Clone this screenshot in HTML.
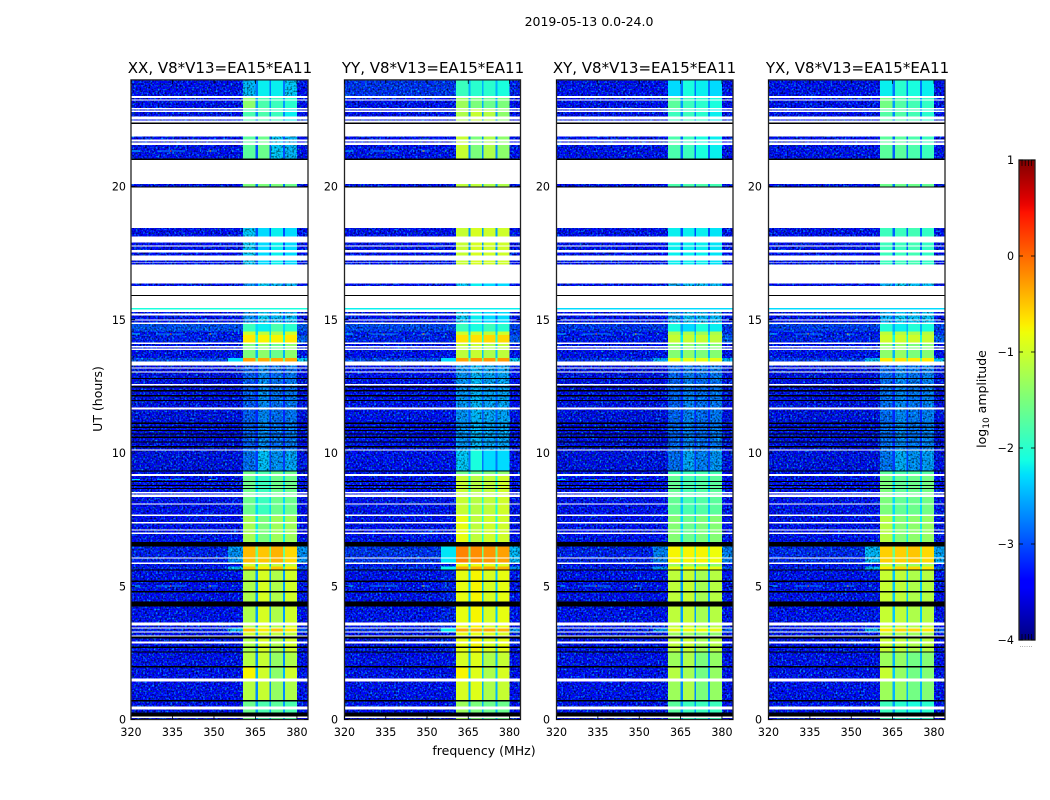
<!DOCTYPE html>
<html lang="en">
<head>
<meta charset="utf-8">
<title>2019-05-13 amplitude waterfall</title>
<style>
html,body{margin:0;padding:0;background:#fff;}
svg{display:block;}
text{font-family:"DejaVu Sans","Liberation Sans",sans-serif;fill:#000;}
</style>
</head>
<body>
<svg id="chart" xmlns="http://www.w3.org/2000/svg" width="1050" height="800" viewBox="0 0 1050 800">
  <defs>
    <linearGradient id="jetRamp" x1="0" y1="1" x2="0" y2="0"></linearGradient>
    <filter id="grain" x="0" y="0" width="100%" height="100%" color-interpolation-filters="sRGB">
      <feTurbulence type="fractalNoise" baseFrequency="0.55" numOctaves="1" seed="7" result="n"/>
      <feColorMatrix in="n" type="matrix" values="0 0 0 0 0  2.2 0 0 0 -1.05  0 0 0 0 0  0 0 0 0 1" result="lift"/>
      <feColorMatrix in="n" type="matrix" values="0 2.2 0 0 -0.2  0 2.2 0 0 -0.2  0 2.2 0 0 -0.2  0 0 0 0 1" result="shade"/>
      <feBlend in="SourceGraphic" in2="lift" mode="screen" result="a"/>
      <feBlend in="a" in2="shade" mode="multiply" result="b"/>
      <feComposite in="b" in2="SourceAlpha" operator="in"/>
    </filter>
  </defs>
  <text x="589" y="26" font-size="12.5" text-anchor="middle">2019-05-13 0.0-24.0</text>
  <text x="102" y="399" font-size="12.5" text-anchor="middle" transform="rotate(-90 102 399)">UT (hours)</text>
  <text x="484" y="755" font-size="12.5" text-anchor="middle">frequency (MHz)</text>
  <text x="986" y="399" font-size="12.5" text-anchor="middle" transform="rotate(-90 986 399)">log<tspan font-size="9" dy="3">10</tspan><tspan dy="-3"> amplitude</tspan></text>
  <g id="panels"></g>
  <g id="colorbar"></g>
</svg>
<script>
/* ---------- data ---------- */
const xTicks = [320, 335, 350, 365, 380];
const yTicks = [0, 5, 10, 15, 20];
const colorbarTicks = [-4, -3, -2, -1, 0, 1];
const colorbarMinorTicks = [-3.96, -3.92, -3.88, -3.84, 0.84, 0.88, 0.92, 0.96];

/* Frequency bin edges in MHz; each bin reads one column of a level profile. */
const freqEdges = [320, 355, 360.5, 365, 365.9, 370.05, 370.6, 374.9, 375.65, 380, 384];
const binColumn = [0, 1, 2, 3, 4, 3, 5, 3, 6, 7];

/* UT row starts (hours) and the state of each row. W = flagged/blank, K = dropped/black, others key the level tables. */
const rowStartHours = [0,.056,.105,.255,.383,.48,.683,.732,1.433,1.531,1.959,2.008,2.507,2.559,2.683,2.732,2.859,2.934,3.032,3.107,3.159,3.257,3.31,3.407,3.46,3.535,3.632,4.233,4.435,4.758,4.822,5.159,5.208,5.583,5.636,5.734,5.835,5.884,6.034,6.086,6.484,6.66,6.961,7.009,7.084,7.137,7.362,7.411,7.636,7.685,8.06,8.113,8.349,8.435,8.488,8.536,8.649,8.687,8.762,8.799,8.912,8.949,9.137,9.212,9.306,9.351,10.086,10.139,10.214,10.262,10.386,10.424,10.563,10.612,10.687,10.739,10.825,10.863,10.938,10.987,11.088,11.137,11.64,11.715,11.951,11.989,12.113,12.176,12.3,12.364,12.465,12.514,12.54,12.589,12.777,12.814,13.013,13.066,13.163,13.216,13.291,13.441,13.565,13.865,13.914,13.966,14.015,14.09,14.139,14.428,14.567,14.841,14.889,14.964,15.017,15.167,15.242,15.291,15.392,15.441,15.891,15.929,16.266,16.368,17.066,17.141,17.167,17.216,17.419,17.516,17.617,17.741,17.794,17.891,18.117,18.443,19.97,20.008,20.094,20.994,21.043,21.557,21.643,21.696,21.771,21.868,22.345,22.394,22.469,22.522,22.619,22.795,22.844,22.897,22.946,23.22,23.272,23.321,23.396];
const rowProfiles = ['A0','W','K','A0','W','A0','K','A','W','A1','K','A','K','C','K','C','W','C','K','W','D0','W','H','W','C','W','C','K','C','K','C','K','C','K','H','D0','W','D','W','D','K','E','W','E','W','E','W','E','W','F','W','F','W','F','W','F','K','F','K','F','K','F','W','F2','K','G','W','I','K','I','K','I','K','I','K','I','K','I','K','I','K','I','W','I','K','I','K','I','K','I','K','I','W','I','K','I','W','I','W','I','W','X','J2','W','J2','W','J2','W','J','J3','L','W','M','W','M','W','M','W','Cy','W','K','W','M','W','N','W','N','W','N','W','N','W','N','W','N','W','K','O','W','K','P','W','P','W','P','W','K','W','Q','W','Q','W','Q','W','R','W','R','W','T'];

/* log10 amplitude per profile: background, shoulder, sub-band 1, gaps, sub-band 2, 3, 4, upper edge */
const levelsXX = {
  A0:[-3.45,-3.45,-1.6,-2.6,-1.8,-1.7,-1.8,-3.45], A:[-3.45,-3.45,-1.15,-2.7,-1.05,-1.35,-1.2,-3.45],
  A1:[-3.45,-3.45,-0.75,-2.5,-1.0,-1.4,-1.0,-3.45], C:[-3.45,-3.4,-1.2,-2.6,-0.95,-1.2,-1.0,-3.45],
  H:[-3.3,-2.5,-0.5,-1.8,-0.7,-0.5,-0.7,-3.0], D:[-3.3,-2.7,-0.45,-1.6,-0.5,-0.4,-0.6,-2.7],
  D0:[-3.45,-3.45,-1.0,-2.5,-1.0,-1.1,-1.1,-3.45], E:[-3.45,-3.45,-1.25,-2.2,-1.5,-1.3,-1.3,-3.45],
  F:[-3.45,-3.45,-1.6,-2.3,-1.9,-1.6,-1.6,-3.45], F2:[-3.4,-3.4,-1.6,-2.4,-1.8,-1.6,-1.6,-3.4],
  G:[-3.5,-3.5,-2.9,-3.1,-2.45,-2.7,-2.6,-3.5], I:[-3.5,-3.5,-3.0,-3.2,-2.75,-2.9,-2.85,-3.5],
  J:[-3.3,-3.3,-0.7,-2.0,-0.75,-0.75,-0.7,-3.0], J2:[-3.45,-3.45,-1.5,-2.5,-1.4,-1.6,-1.4,-3.4],
  J3:[-3.4,-3.4,-1.0,-2.3,-1.1,-1.2,-1.0,-3.2], X:[-3.1,-2.3,-0.3,-1.6,-0.35,-0.35,-0.35,-2.4],
  L:[-3.05,-3.05,-1.9,-2.3,-2.2,-1.8,-2.0,-3.0], M:[-3.45,-3.45,-2.7,-3.0,-2.4,-2.5,-2.5,-3.45],
  Cy:[-2.1,-2.1,-2.1,-2.1,-2.1,-2.1,-2.1,-2.1], N:[-3.45,-3.45,-2.4,-3.0,-2.3,-2.2,-2.3,-3.45],
  O:[-3.45,-3.45,-1.5,-2.8,-1.5,-1.5,-1.6,-3.45], P:[-3.45,-3.45,-1.7,-3.0,-1.6,-2.4,-2.5,-3.45],
  Q:[-3.45,-3.45,-1.8,-2.7,-1.8,-1.9,-2.2,-3.45], R:[-3.45,-3.45,-1.4,-2.6,-1.8,-1.9,-2.0,-3.45],
  T:[-3.4,-3.4,-2.5,-2.8,-2.2,-2.2,-2.4,-3.4]
};
const levelsYY = {
  A0:[-3.45,-3.45,-1.3,-2.5,-1.5,-1.6,-1.6,-3.45], A:[-3.45,-3.45,-0.95,-2.5,-0.9,-1.2,-1.05,-3.45],
  A1:[-3.45,-3.45,-0.75,-2.4,-0.9,-1.2,-0.95,-3.45], C:[-3.4,-3.3,-0.85,-2.4,-0.75,-0.95,-0.85,-3.4],
  H:[-3.2,-2.2,-0.35,-1.6,-0.4,-0.35,-0.4,-2.7], D:[-3.2,-2.25,-0.15,-1.6,-0.2,-0.25,-0.3,-2.5],
  D0:[-3.45,-3.4,-0.85,-2.3,-0.85,-0.9,-0.95,-3.4], E:[-3.4,-3.4,-0.85,-2.1,-1.1,-1.0,-1.0,-3.4],
  F:[-3.45,-3.45,-1.05,-2.1,-1.15,-1.1,-1.0,-3.45], F2:[-3.4,-3.4,-1.6,-2.3,-1.6,-1.5,-1.4,-3.4],
  G:[-3.45,-3.45,-2.4,-2.8,-2.1,-2.3,-2.3,-3.45], I:[-3.45,-3.45,-2.7,-2.95,-2.5,-2.6,-2.6,-3.45],
  J:[-3.3,-3.3,-0.65,-2.0,-0.65,-0.6,-0.6,-3.0], J2:[-3.4,-3.4,-1.1,-2.4,-1.05,-1.2,-1.1,-3.4],
  J3:[-3.35,-3.35,-1.0,-2.3,-1.0,-1.1,-1.0,-3.2], X:[-3.1,-2.3,-0.3,-1.6,-0.25,-0.25,-0.25,-2.4],
  L:[-3.1,-3.1,-1.9,-2.4,-2.1,-1.9,-2.0,-3.1], M:[-3.45,-3.45,-2.4,-2.9,-2.2,-2.3,-2.3,-3.45],
  Cy:[-2.2,-2.2,-2.2,-2.2,-2.2,-2.2,-2.2,-2.2], N:[-3.45,-3.4,-1.05,-2.6,-0.95,-1.0,-1.0,-3.4],
  O:[-3.45,-3.4,-1.1,-2.6,-1.1,-1.2,-1.2,-3.4], P:[-3.4,-3.4,-1.05,-2.7,-1.5,-1.2,-1.4,-3.4],
  Q:[-3.4,-3.4,-1.2,-2.6,-1.05,-1.15,-1.4,-3.4], R:[-3.4,-3.4,-1.3,-2.5,-1.5,-1.6,-1.5,-3.4],
  T:[-3.2,-3.2,-1.9,-2.5,-2.0,-2.0,-2.1,-3.3]
};
const levelsXY = {
  A0:[-3.45,-3.45,-1.7,-2.6,-1.9,-1.9,-1.9,-3.45], A:[-3.45,-3.45,-1.3,-2.7,-1.2,-1.5,-1.35,-3.45],
  A1:[-3.45,-3.45,-1.15,-2.6,-1.25,-1.55,-1.35,-3.45], C:[-3.45,-3.4,-1.1,-2.6,-1.05,-1.25,-1.15,-3.45],
  H:[-3.3,-2.7,-0.85,-2.0,-0.8,-0.8,-0.85,-3.0], D:[-3.3,-2.8,-0.75,-1.8,-0.75,-0.75,-0.8,-2.8],
  D0:[-3.45,-3.45,-1.3,-2.6,-1.3,-1.4,-1.4,-3.45], E:[-3.45,-3.45,-1.45,-2.3,-1.6,-1.5,-1.45,-3.45],
  F:[-3.45,-3.45,-1.65,-2.4,-1.8,-1.75,-1.7,-3.45], F2:[-3.4,-3.4,-1.85,-2.5,-1.9,-1.85,-1.85,-3.4],
  G:[-3.5,-3.5,-2.9,-3.1,-2.6,-2.8,-2.7,-3.5], I:[-3.5,-3.5,-2.95,-3.2,-2.8,-2.9,-2.85,-3.5],
  J:[-3.35,-3.35,-1.05,-2.2,-1.05,-1.05,-1.1,-3.0], J2:[-3.45,-3.45,-1.45,-2.5,-1.4,-1.5,-1.45,-3.4],
  J3:[-3.4,-3.4,-1.2,-2.4,-1.2,-1.3,-1.2,-3.2], X:[-3.2,-2.6,-0.85,-1.8,-0.85,-0.85,-0.85,-2.5],
  L:[-3.2,-3.2,-2.1,-2.6,-2.3,-2.1,-2.2,-3.2], M:[-3.45,-3.45,-2.6,-3.0,-2.45,-2.5,-2.5,-3.45],
  Cy:[-2.3,-2.3,-2.3,-2.3,-2.3,-2.3,-2.3,-2.3], N:[-3.45,-3.45,-2.2,-3.0,-2.2,-2.2,-2.25,-3.45],
  O:[-3.45,-3.45,-1.8,-2.8,-1.8,-1.8,-1.85,-3.45], P:[-3.45,-3.45,-1.8,-2.9,-1.9,-2.1,-2.2,-3.45],
  Q:[-3.45,-3.45,-1.9,-2.7,-1.9,-2.0,-2.2,-3.45], R:[-3.45,-3.45,-1.7,-2.6,-1.9,-2.0,-2.1,-3.45],
  T:[-3.4,-3.4,-2.3,-2.8,-2.1,-2.2,-2.3,-3.4]
};
const levelsYX = {
  A0:[-3.45,-3.45,-1.9,-2.6,-2.0,-2.1,-2.0,-3.45], A:[-3.45,-3.45,-1.3,-2.5,-1.35,-1.55,-1.45,-3.45],
  A1:[-3.45,-3.45,-1.05,-2.4,-1.35,-1.55,-1.45,-3.45], C:[-3.45,-3.35,-1.05,-2.4,-1.1,-1.2,-1.15,-3.4],
  H:[-3.3,-2.5,-0.7,-1.8,-0.6,-0.6,-0.7,-3.0], D:[-3.25,-2.5,-0.55,-1.6,-0.55,-0.5,-0.6,-2.6],
  D0:[-3.45,-3.45,-1.1,-2.5,-1.2,-1.3,-1.25,-3.45], E:[-3.45,-3.45,-1.15,-2.2,-1.45,-1.4,-1.35,-3.45],
  F:[-3.45,-3.45,-1.5,-2.3,-1.65,-1.6,-1.55,-3.45], F2:[-3.4,-3.4,-1.7,-2.4,-1.8,-1.75,-1.75,-3.4],
  G:[-3.5,-3.5,-2.85,-3.1,-2.55,-2.7,-2.65,-3.5], I:[-3.5,-3.5,-2.9,-3.2,-2.75,-2.85,-2.8,-3.5],
  J:[-3.3,-3.3,-1.0,-2.1,-1.0,-1.0,-1.05,-3.0], J2:[-3.45,-3.45,-1.4,-2.5,-1.35,-1.5,-1.45,-3.4],
  J3:[-3.4,-3.4,-1.1,-2.3,-1.15,-1.2,-1.15,-3.2], X:[-3.15,-2.5,-0.7,-1.7,-0.65,-0.7,-0.7,-2.45],
  L:[-3.15,-3.15,-2.05,-2.5,-2.2,-2.05,-2.1,-3.15], M:[-3.45,-3.45,-2.55,-3.0,-2.4,-2.45,-2.45,-3.45],
  Cy:[-2.3,-2.3,-2.3,-2.3,-2.3,-2.3,-2.3,-2.3], N:[-3.45,-3.45,-1.9,-2.9,-1.9,-1.85,-1.95,-3.45],
  O:[-3.45,-3.45,-1.6,-2.8,-1.6,-1.6,-1.65,-3.45], P:[-3.45,-3.45,-1.7,-2.9,-1.7,-1.8,-1.9,-3.45],
  Q:[-3.45,-3.45,-1.75,-2.7,-1.75,-1.85,-2.0,-3.45], R:[-3.45,-3.45,-1.55,-2.6,-1.75,-1.85,-1.95,-3.45],
  T:[-3.4,-3.4,-2.2,-2.8,-2.0,-2.1,-2.2,-3.4]
};

/* Narrow interference lines */
const spurStartMHz = [320.4, 329.4, 334.1, 334.8, 344.9, 347.8, 348.4, 356.5];
const spurEndMHz   = [323.3, 334.1, 334.6, 339.5, 345.4, 351.1, 349.0, 357.0];
const spurLevels   = [-2.3, -2.7, -0.1, -2.7, -2.3, -2.7, -0.6, -2.0];
const spurHoursXX = [5.01, 9.01, 14.46, 21.33];
const spurHoursYY = [5.01, 14.46, 21.33];
const spurHoursXY = [5.01, 9.01, 14.46];
const spurHoursYX = [5.01, 14.46];

/* ---------- layout & scales ---------- */
const NS = 'http://www.w3.org/2000/svg';
const axisTop = 79.9, axisBottom = 719.5, hourMax = 24, freqMin = 320, freqMax = 384;
const barTop = 160, barBottom = 640, barLeft = 1019, barRight = 1035, levelMin = -4, levelMax = 1;
const grainCutoff = -2.3, gapColumn = 3;
const panelDefs = [
  {key:'xx', title:'XX, V8*V13=EA15*EA11', left:131,   right:308,   titleX:220,   labelGap:5, levels:levelsXX, spurs:spurHoursXX},
  {key:'yy', title:'YY, V8*V13=EA15*EA11', left:344.5, right:520.5, titleX:433,   labelGap:6.5, levels:levelsYY, spurs:spurHoursYY},
  {key:'xy', title:'XY, V8*V13=EA15*EA11', left:556.5, right:733,   titleX:644.5, labelGap:6.5, levels:levelsXY, spurs:spurHoursXY},
  {key:'yx', title:'YX, V8*V13=EA15*EA11', left:768.5, right:945,   titleX:857.5, labelGap:6.5, levels:levelsYX, spurs:spurHoursYX}
];
const yScale = h => axisBottom - (h / hourMax) * (axisBottom - axisTop);
const xScaleFor = p => f => p.left + ((f - freqMin) / (freqMax - freqMin)) * (p.right - p.left);
const barScale = v => barBottom - ((v - levelMin) / (levelMax - levelMin)) * (barBottom - barTop);

function ramp(v, pts) {
  for (let i = 1; i < pts.length; i++) {
    if (v <= pts[i][0]) {
      return pts[i-1][1] + (v - pts[i-1][0]) / (pts[i][0] - pts[i-1][0]) * (pts[i][1] - pts[i-1][1]);
    }
  }
  return pts[pts.length-1][1];
}
function jet(level) {
  const v = Math.max(0, Math.min(1, (level - levelMin) / (levelMax - levelMin)));
  const r = ramp(v, [[0,0],[.35,0],[.66,1],[.89,1],[1,.5]]);
  const g = ramp(v, [[0,0],[.125,0],[.375,1],[.64,1],[.91,0],[1,0]]);
  const b = ramp(v, [[0,.5],[.11,1],[.34,1],[.65,0],[1,0]]);
  return 'rgb(' + Math.round(r*255) + ',' + Math.round(g*255) + ',' + Math.round(b*255) + ')';
}
function make(tag, parent, attrs, text) {
  const el = document.createElementNS(NS, tag);
  for (const k in attrs) el.setAttribute(k, attrs[k]);
  if (text !== undefined) el.textContent = text;
  parent.appendChild(el);
  return el;
}

/* ---------- panels ---------- */
const panelsRoot = document.getElementById('panels');
panelDefs.forEach(p => {
  const x = xScaleFor(p);
  const g = make('g', panelsRoot, {});
  
  

  const noisyCells = make('g', g, {'shape-rendering':'crispEdges', filter:'url(#grain)'});
  
  
  const cells = make('g', g, {'shape-rendering':'crispEdges'});
  
  

  rowStartHours.forEach((start, r) => {
    const key = rowProfiles[r];
    if (key === 'W') return;
    const end = r + 1 < rowStartHours.length ? rowStartHours[r + 1] : hourMax;
    const top = yScale(end), h = yScale(start) - top;
    if (key === 'K') {
      const band = make('rect', cells, {x:p.left, y:top, width:p.right - p.left, height:h, fill:'#000'});
      
      
      return;
    }
    const profile = p.levels[key];
    binColumn.forEach((col, b) => {
      const level = profile[col];
      const parent = (level < grainCutoff && col !== gapColumn) ? noisyCells : cells;
      const cell = make('rect', parent, {x:x(freqEdges[b]), y:top, width:x(freqEdges[b + 1]) - x(freqEdges[b]), height:h, fill:jet(level)});
      
      
    });
  });

  p.spurs.forEach(hour => {
    spurLevels.forEach((lvl, s) => {
      const spur = make('rect', cells, {x:x(spurStartMHz[s]), y:yScale(hour) - 0.6, width:x(spurEndMHz[s]) - x(spurStartMHz[s]), height:1.2, fill:jet(lvl)});
      
      
    });
  });

  const frame = make('rect', g, {x:p.left, y:axisTop, width:p.right - p.left, height:axisBottom - axisTop, fill:'none', stroke:'#222', 'stroke-width':1.3});
  
  

  xTicks.forEach(t => {
    const tx = x(t);
    const tb = make('line', g, {x1:tx, x2:tx, y1:axisBottom, y2:axisBottom - 4, stroke:'#000', 'stroke-width':0.8});
    
    
    const tt = make('line', g, {x1:tx, x2:tx, y1:axisTop, y2:axisTop + 4, stroke:'#000', 'stroke-width':0.8});
    
    
    const lab = make('text', g, {x:tx, y:736, 'font-size':11.1, 'text-anchor':'middle'}, String(t));
    
    
  });
  yTicks.forEach(t => {
    const ty = yScale(t);
    const tl = make('line', g, {x1:p.left, x2:p.left + 4, y1:ty, y2:ty, stroke:'#000', 'stroke-width':0.8});
    
    
    const tr = make('line', g, {x1:p.right, x2:p.right - 4, y1:ty, y2:ty, stroke:'#000', 'stroke-width':0.8});
    
    
    const lab = make('text', g, {x:p.left - p.labelGap, y:ty + 4, 'font-size':11.1, 'text-anchor':'end'}, String(t));
    
    
  });

  const title = make('text', g, {x:p.titleX, y:73, 'font-size':15, 'text-anchor':'middle'}, p.title);
  
  
});

/* ---------- colorbar ---------- */
const gradient = document.getElementById('jetRamp');
for (let i = 0; i <= 64; i++) {
  make('stop', gradient, {offset: i / 64, 'stop-color': jet(levelMin + (levelMax - levelMin) * i / 64)});
}
const barRoot = document.getElementById('colorbar');
const barRect = make('rect', barRoot, {x:barLeft, y:barTop, width:barRight - barLeft, height:barBottom - barTop, fill:'url(#jetRamp)', stroke:'#222', 'stroke-width':1.3});


colorbarTicks.forEach(t => {
  const ty = barScale(t);
  const a = make('line', barRoot, {x1:barLeft, x2:barLeft + 4, y1:ty, y2:ty, stroke:'#000', 'stroke-width':0.8});
  
  
  const b = make('line', barRoot, {x1:barRight, x2:barRight - 4, y1:ty, y2:ty, stroke:'#000', 'stroke-width':0.8});
  
  
  const lab = make('text', barRoot, {x:1014, y:ty + 4, 'font-size':11.1, 'text-anchor':'end'}, String(t).replace('-', '\u2212'));
  
  
});
colorbarMinorTicks.forEach((t, i) => {
  const tx = barLeft + 3 + (i % 4) * 3.2;
  const inward = t < 0 ? -6 : 6;
  const end = t < 0 ? barBottom : barTop;
  const m = make('line', barRoot, {x1:tx, x2:tx, y1:end, y2:end + inward, stroke:'#000', 'stroke-width':0.7});
  
  
});
const dots = make('text', barRoot, {x:1026, y:647, 'font-size':7, 'text-anchor':'middle', style:'fill:#888'}, '......');


</script>
</body>
</html>
